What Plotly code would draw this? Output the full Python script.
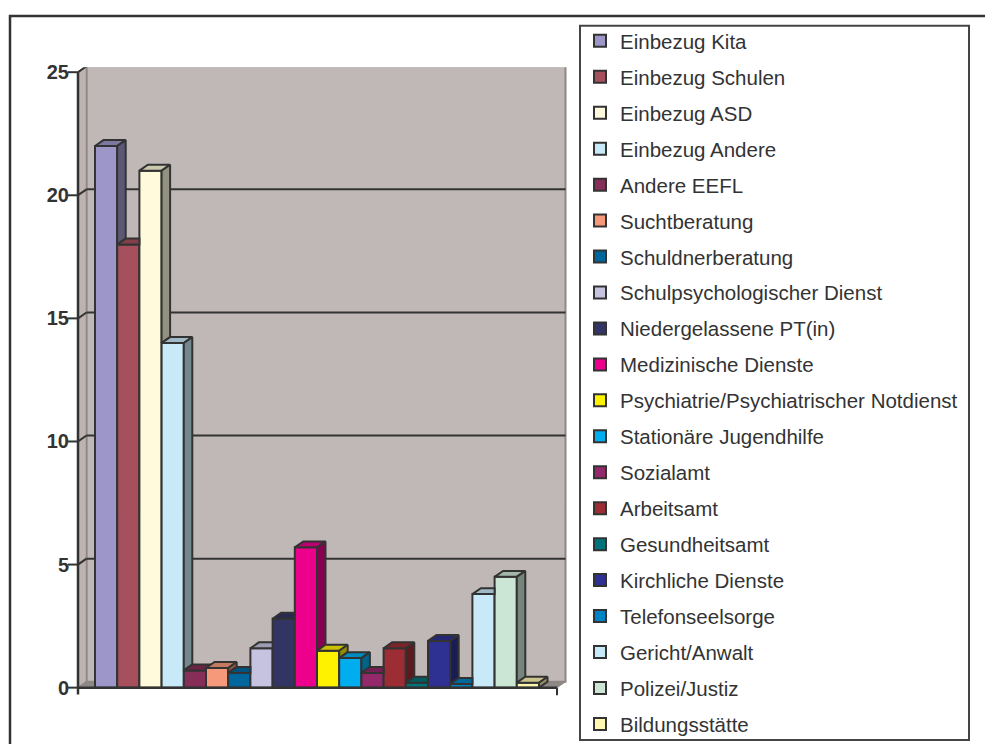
import plotly.graph_objects as go

# ---------------- data ----------------
categories = [
    "Einbezug Kita", "Einbezug Schulen", "Einbezug ASD", "Einbezug Andere",
    "Andere EEFL", "Suchtberatung", "Schuldnerberatung",
    "Schulpsychologischer Dienst", "Niedergelassene PT(in)", "Medizinische Dienste",
    "Psychiatrie/Psychiatrischer Notdienst", "Stationäre Jugendhilfe", "Sozialamt",
    "Arbeitsamt", "Gesundheitsamt", "Kirchliche Dienste", "Telefonseelsorge",
    "Gericht/Anwalt", "Polizei/Justiz", "Bildungsstätte",
]
values = [22, 18, 21, 14, 0.7, 0.8, 0.6, 1.6, 2.8, 5.7,
          1.5, 1.2, 0.6, 1.6, 0.2, 1.9, 0.15, 3.8, 4.5, 0.2]
colors = [
    "#9D96C9", "#A5505C", "#FFFADC", "#C7E9F8", "#862D58", "#F6987A",
    "#00679E", "#C6C3E0", "#323464", "#EC008C", "#FFF200", "#00AEEF",
    "#93296A", "#9C2D34", "#00747A", "#2E3192", "#0083C4", "#C7E9F8",
    "#CCE6D5", "#FFF6B0",
]
y_ticks = [0, 5, 10, 15, 20, 25]

# ---------------- geometry / style ----------------
W, H = 985, 744
PX_LEFT, PX_RIGHT, PX_TOP, PX_BOTTOM = 78, 567, 62, 698
PX_ZERO = 690
UX, UY = 22.2, 24.92            # pixels per data unit
XMIN = -0.5 - 17 / UX           # position of value axis
XR = XMIN + (PX_RIGHT - PX_LEFT) / UX
XEND = XMIN + 479 / UX          # end of category axis
YMIN = -(PX_BOTTOM - PX_ZERO) / UY
YMAX = (PX_ZERO - PX_TOP) / UY
YTOP = 25
DX, DY = 8.5 / UX, 6 / UY       # 3D depth offset in data units
EDGE = "#333333"
FONT = "Liberation Sans, Arial, sans-serif"
DOM_Y = [1 - PX_BOTTOM / H, 1 - PX_TOP / H]


def shade(hexcol, f):
    h = hexcol.lstrip("#")
    r, g, b = (int(h[i:i + 2], 16) for i in (0, 2, 4))
    return "#%02X%02X%02X" % (int(r * f), int(g * f), int(b * f))


def path(pts):
    return "M " + " L ".join(f"{x},{y}" for x, y in pts) + " Z"


def ypaper(v):
    return DOM_Y[0] + (v - YMIN) / (YMAX - YMIN) * (DOM_Y[1] - DOM_Y[0])


fig = go.Figure()

# front faces (bars) with legend entries
for i, (name, v, c) in enumerate(zip(categories, values, colors)):
    fig.add_trace(go.Bar(
        x=[i], y=[v], width=1, name=name, legendgroup=name,
        marker=dict(color=c, line=dict(color=EDGE, width=2)),
        hoverinfo="skip",
    ))

# top and side faces (3D look), clipped against the neighbouring bar
for i, (name, v, c) in enumerate(zip(categories, values, colors)):
    L, R = i - 0.5, i + 0.5
    n = values[i + 1] if i + 1 < len(values) else 0
    if n <= v:
        top = [(L, v), (R, v), (R + DX, v + DY), (L + DX, v + DY)]
    else:
        cc = min(max(n, v), v + DY)
        top = [(L, v), (R, v), (R, cc), (R + (v + DY - cc) * DX / DY, v + DY), (L + DX, v + DY)]
    top.append(top[0])
    fig.add_trace(go.Scatter(
        x=[p[0] for p in top], y=[p[1] for p in top], mode="lines", fill="toself",
        fillcolor=shade(c, 0.8), line=dict(color=EDGE, width=2),
        showlegend=False, legendgroup=name, hoverinfo="skip",
    ))
    if v > n:
        side = [(R, n), (R, v), (R + DX, v + DY), (R + DX, n + DY), (R, n)]
        fig.add_trace(go.Scatter(
            x=[p[0] for p in side], y=[p[1] for p in side], mode="lines", fill="toself",
            fillcolor=shade(c, 0.58), line=dict(color=EDGE, width=2),
            showlegend=False, legendgroup=name, hoverinfo="skip",
        ))

shapes = []
# back wall
shapes.append(dict(type="path", xref="x", yref="y", layer="below",
                   path=path([(XMIN + DX, DY), (XEND + DX, DY), (XEND + DX, YTOP + DY), (XMIN + DX, YTOP + DY)]),
                   fillcolor="#C0B8B6", line=dict(color="#8F8785", width=2)))
# side wall
shapes.append(dict(type="path", xref="x", yref="y", layer="below",
                   path=path([(XMIN, 0), (XMIN, YTOP), (XMIN + DX, YTOP + DY), (XMIN + DX, DY)]),
                   fillcolor="#BDB3B0", line=dict(color="#8F8785", width=1.5)))
# floor
shapes.append(dict(type="path", xref="x", yref="y", layer="below",
                   path=path([(XMIN, 0), (XEND, 0), (XEND + DX, DY), (XMIN + DX, DY)]),
                   fillcolor="#8F8785", line=dict(color="#8F8785", width=1)))
# gridlines on the back wall + diagonals across the side wall
for t in y_ticks[1:-1]:
    shapes.append(dict(type="line", xref="x", yref="y", layer="below",
                       x0=XMIN + DX, x1=XEND + DX, y0=t + DY, y1=t + DY,
                       line=dict(color=EDGE, width=2)))
for t in y_ticks[1:]:
    shapes.append(dict(type="line", xref="x", yref="y", layer="below",
                       x0=XMIN, x1=XMIN + DX, y0=t, y1=t + DY,
                       line=dict(color=EDGE, width=2)))
# category axis line and end tick
shapes.append(dict(type="line", xref="x", yref="y", x0=XMIN, x1=XEND, y0=0, y1=0,
                   line=dict(color=EDGE, width=2.5)))
shapes.append(dict(type="line", xref="x", yref="y", x0=XEND, x1=XEND, y0=0, y1=YMIN,
                   line=dict(color=EDGE, width=2)))
# value axis line and tick marks
shapes.append(dict(type="line", xref="paper", yref="paper",
                   x0=PX_LEFT / W, x1=PX_LEFT / W, y0=1 - 697 / H, y1=ypaper(YTOP),
                   line=dict(color=EDGE, width=2.5)))
for t in y_ticks:
    shapes.append(dict(type="line", xref="paper", yref="paper",
                       x0=68 / W, x1=PX_LEFT / W, y0=ypaper(t), y1=ypaper(t),
                       line=dict(color=EDGE, width=2)))
# legend frame
shapes.append(dict(type="rect", xref="paper", yref="paper",
                   x0=580 / W, x1=969 / W, y0=1 - 743 / H, y1=1 - 20 / H,
                   line=dict(color="#444444", width=2), fillcolor="rgba(0,0,0,0)"))
# outer frame
shapes.append(dict(type="rect", xref="paper", yref="paper",
                   x0=10 / W, x1=1000 / W, y0=1 - 760 / H, y1=1 - 10 / H,
                   line=dict(color=EDGE, width=2.5), fillcolor="rgba(0,0,0,0)"))

fig.update_layout(
    width=W, height=H, margin=dict(l=0, r=0, t=0, b=0),
    paper_bgcolor="white", plot_bgcolor="white",
    barmode="overlay", showlegend=True, shapes=shapes,
    font=dict(family=FONT, color="#333333"),
    xaxis=dict(domain=[PX_LEFT / W, PX_RIGHT / W], range=[XMIN, XR],
               showgrid=False, zeroline=False, showticklabels=False,
               ticks="", showline=False, fixedrange=True),
    yaxis=dict(domain=DOM_Y, range=[YMIN, YMAX],
               tickvals=y_ticks, ticks="outside", ticklen=4, tickwidth=1,
               tickcolor="rgba(0,0,0,0)", showline=False,
               showgrid=False, zeroline=False, fixedrange=True,
               tickfont=dict(family=FONT, size=20, color=EDGE, weight="bold")),
    legend=dict(x=580 / W, y=1 - 25 / H, xanchor="left", yanchor="top",
                font=dict(family=FONT, size=20.5, color="#333333"),
                bgcolor="rgba(0,0,0,0)", borderwidth=0,
                tracegroupgap=6.3, traceorder="grouped", itemclick=False,
                itemdoubleclick=False),
)
try:
    fig.update_layout(legend_maxheight=2000)
except ValueError:
    pass

fig.write_html("out.html")
